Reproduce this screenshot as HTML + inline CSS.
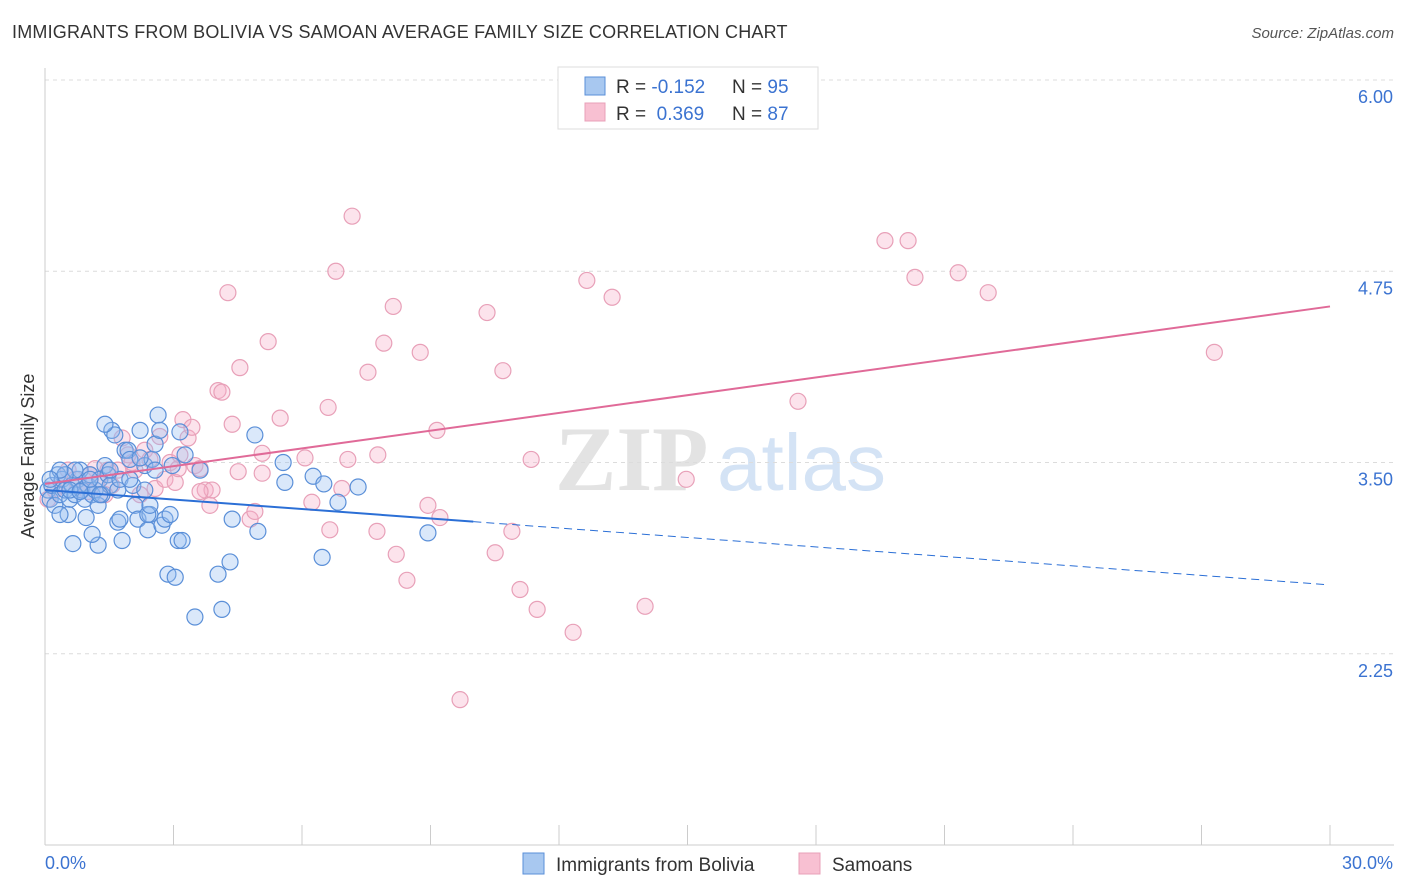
<!DOCTYPE html>
<html><head><meta charset="utf-8">
<style>
body{margin:0;background:#fff;font-family:"Liberation Sans",sans-serif;}
#wrap{position:relative;width:1406px;height:892px;overflow:hidden;}
.t{position:absolute;white-space:nowrap;}
</style></head>
<body>
<div id="wrap">
<div class="t" style="left:12px;top:22px;font-size:18px;color:#333;letter-spacing:0.2px">IMMIGRANTS FROM BOLIVIA VS SAMOAN AVERAGE FAMILY SIZE CORRELATION CHART</div>
<div class="t" style="right:12px;top:25px;font-size:15px;color:#555;font-style:italic">Source: ZipAtlas.com</div>
<svg id="svg" width="1406" height="892" style="position:absolute;left:0;top:0"></svg>
</div>
<script>
const blueX=[0.07,0.12,0.16,0.23,0.30,0.35,0.40,0.47,0.54,0.58,0.63,0.70,0.77,0.82,0.86,0.93,1.00,1.05,1.10,1.17,1.24,1.28,1.33,1.40,1.47,1.52,1.56,1.63,1.40,1.70,1.75,1.87,1.94,1.98,2.05,2.10,2.17,2.22,2.33,2.40,2.45,2.50,2.57,2.64,2.68,2.73,2.80,2.87,2.92,2.97,3.04,3.11,3.15,3.20,3.27,3.50,3.62,4.04,4.13,4.32,4.37,4.90,4.97,5.60,5.56,6.26,6.47,6.51,6.84,7.31,8.94,0.65,1.24,1.10,1.80,0.96,1.70,0.35,2.40,0.58,0.82,1.28,1.52,2.22,2.57,0.70,0.47,1.05,1.98,2.33,0.35,0.12,2.45,1.75];
const blueY=[3.32,3.26,3.35,3.22,3.42,3.29,3.39,3.32,3.16,3.26,3.35,3.29,3.39,3.45,3.32,3.26,3.35,3.42,3.29,3.32,3.22,3.39,3.29,3.48,3.42,3.35,3.71,3.68,3.75,3.32,3.39,3.58,3.58,3.52,3.35,3.22,3.13,3.71,3.48,3.06,3.16,3.52,3.62,3.81,3.71,3.09,3.13,2.77,3.16,3.48,2.75,2.99,3.70,2.99,3.55,2.49,3.45,2.77,2.54,2.85,3.13,3.68,3.05,3.37,3.50,3.41,2.88,3.36,3.24,3.34,3.04,2.97,2.96,3.03,2.99,3.14,3.11,3.16,3.16,3.32,3.31,3.29,3.45,3.53,3.45,3.45,3.42,3.39,3.39,3.32,3.45,3.39,3.22,3.13];
const pinkX=[0.07,0.23,0.40,0.54,0.70,0.86,1.05,1.17,1.28,1.47,1.56,1.70,1.80,1.94,2.03,2.22,2.33,2.45,2.57,2.68,2.80,2.92,3.04,3.11,3.22,3.34,3.43,3.50,3.62,3.74,3.85,3.90,4.04,4.13,4.27,4.37,4.51,4.55,4.79,4.90,5.07,5.07,5.21,5.49,6.07,6.23,6.61,6.65,6.79,6.93,7.07,7.17,7.54,7.75,7.77,7.91,8.13,8.20,8.45,8.76,8.94,9.15,9.22,9.69,10.32,10.51,10.69,10.90,11.09,11.35,11.49,12.33,12.65,13.24,14.01,14.97,17.58,19.61,20.15,20.31,21.32,22.02,27.30,1.00,1.40,2.10,3.15,3.62];
const pinkY=[3.26,3.32,3.35,3.45,3.39,3.32,3.42,3.46,3.39,3.45,3.35,3.45,3.66,3.55,3.50,3.29,3.58,3.52,3.33,3.67,3.39,3.50,3.37,3.46,3.78,3.66,3.73,3.48,3.46,3.32,3.22,3.32,3.97,3.96,4.61,3.75,3.44,4.12,3.13,3.18,3.56,3.43,4.29,3.79,3.53,3.24,3.86,3.06,4.75,3.33,3.52,5.11,4.09,3.05,3.55,4.28,4.52,2.90,2.73,4.22,3.22,3.71,3.14,1.95,4.48,2.91,4.10,3.05,2.67,3.52,2.54,2.39,4.69,4.58,2.56,3.39,3.90,4.95,4.95,4.71,4.74,4.61,4.22,3.31,3.29,3.45,3.55,3.31];
const yTicks=[6.00,4.75,3.50,2.25];
const yTickLabels=["6.00","4.75","3.50","2.25"];
const xTicks=[0,3,6,9,12,15,18,21,24,27,30];
const blueTrend=[3.32,2.70]; // value at 0% and 30%
const pinkTrend=[3.36,4.52];
const blueSolidEnd=10;

const X0=45,X1=1330,Y0=845,Y1=80;
const sx=v=>X0+(v/30)*(X1-X0);
const sy=v=>Y0-(v-1)/(6-1)*(Y0-Y1);
const svg=document.getElementById('svg');
const NS='http://www.w3.org/2000/svg';
function mk(tag,attrs,parent){const e=document.createElementNS(NS,tag);for(const k in attrs)e.setAttribute(k,attrs[k]);(parent||svg).appendChild(e);return e;}

// watermark
let wm=mk('text',{x:555,y:490,'font-size':92,fill:'#e3e3e3','font-family':'Liberation Serif, serif','font-weight':'bold'});
wm.textContent='ZIP';


let wm2=mk('text',{x:717,y:490,'font-size':80,fill:'#d4e3f5','font-family':'Liberation Sans, sans-serif'});
wm2.textContent='atlas';



yTicks.forEach((v,i)=>{
  const g=mk('line',{x1:X0,x2:1394,y1:sy(v),y2:sy(v),stroke:'#dcdcdc','stroke-dasharray':'4,4'});
  
  
  const t=mk('text',{x:1393,y:sy(v)+23,'text-anchor':'end','font-size':18,fill:'#3b73d1'});
  t.textContent=yTickLabels[i];
  
  
});
let ax=mk('line',{x1:X0,x2:X0,y1:68,y2:Y0,stroke:'#ccc'});


let bx=mk('line',{x1:X0,x2:1394,y1:Y0,y2:Y0,stroke:'#ccc'});


xTicks.forEach(v=>{
  const l=mk('line',{x1:sx(v),x2:sx(v),y1:Y0,y2:Y0-20,stroke:'#ccc'});
  
  
});
let xl=mk('text',{x:45,y:869,'font-size':18,fill:'#3b73d1'});xl.textContent='0.0%';


let xr=mk('text',{x:1393,y:869,'font-size':18,fill:'#3b73d1','text-anchor':'end'});xr.textContent='30.0%';


let yt=mk('text',{x:34,y:456,'font-size':18,fill:'#333','text-anchor':'middle',transform:'rotate(-90 34 456)'});yt.textContent='Average Family Size';



pinkX.forEach((v,i)=>{
  const c=mk('circle',{cx:sx(v),cy:sy(pinkY[i]),r:8,fill:'rgba(245,175,200,0.35)',stroke:'#e8a0b8','stroke-width':1.2});
  
  
});
blueX.forEach((v,i)=>{
  const c=mk('circle',{cx:sx(v),cy:sy(blueY[i]),r:8,fill:'rgba(150,190,240,0.35)',stroke:'#5a8fd8','stroke-width':1.2});
  
  
});
const bAt=x=>blueTrend[0]+(blueTrend[1]-blueTrend[0])*x/30;
let bl=mk('line',{x1:sx(0),y1:sy(bAt(0)),x2:sx(blueSolidEnd),y2:sy(bAt(blueSolidEnd)),stroke:'#2b6fd6','stroke-width':2});


let bd=mk('line',{x1:sx(blueSolidEnd),y1:sy(bAt(blueSolidEnd)),x2:sx(29.9),y2:sy(bAt(29.9)),stroke:'#2b6fd6','stroke-width':1,'stroke-dasharray':'8,5'});


let pl=mk('line',{x1:sx(0),y1:sy(pinkTrend[0]),x2:sx(30),y2:sy(pinkTrend[1]),stroke:'#e06a98','stroke-width':2});



// legend box
let lg=mk('rect',{x:558,y:67,width:260,height:62,fill:'#fff',stroke:'#ddd'});


[[77,'#a8c8f0','#5a8fd8','-0.152','95',93],[103,'#f8c0d2','#e8a0b8','0.369','87',120]].forEach((r,i)=>{
  const s=mk('rect',{x:585,y:r[0],width:20,height:18,fill:r[1],stroke:r[2]});
  
  
  const t=mk('text',{x:616,y:r[5],'font-size':19,fill:'#333'});
  t.innerHTML='R = <tspan fill="#3b73d1">'+(i?'&#160;':'')+r[3]+'</tspan><tspan x="732">N = </tspan><tspan fill="#3b73d1">'+r[4]+'</tspan>';
  
  
});
// bottom legend
[[523,'#a8c8f0','#5a8fd8','Immigrants from Bolivia'],[799,'#f8c0d2','#e8a0b8','Samoans']].forEach(r=>{
  const s=mk('rect',{x:r[0],y:853,width:21,height:21,fill:r[1],stroke:r[2]});
  
  
  const t=mk('text',{x:r[0]+33,y:871,'font-size':19,fill:'#333'});
  t.textContent=r[3];
  
  
});
</script>
</body></html>
